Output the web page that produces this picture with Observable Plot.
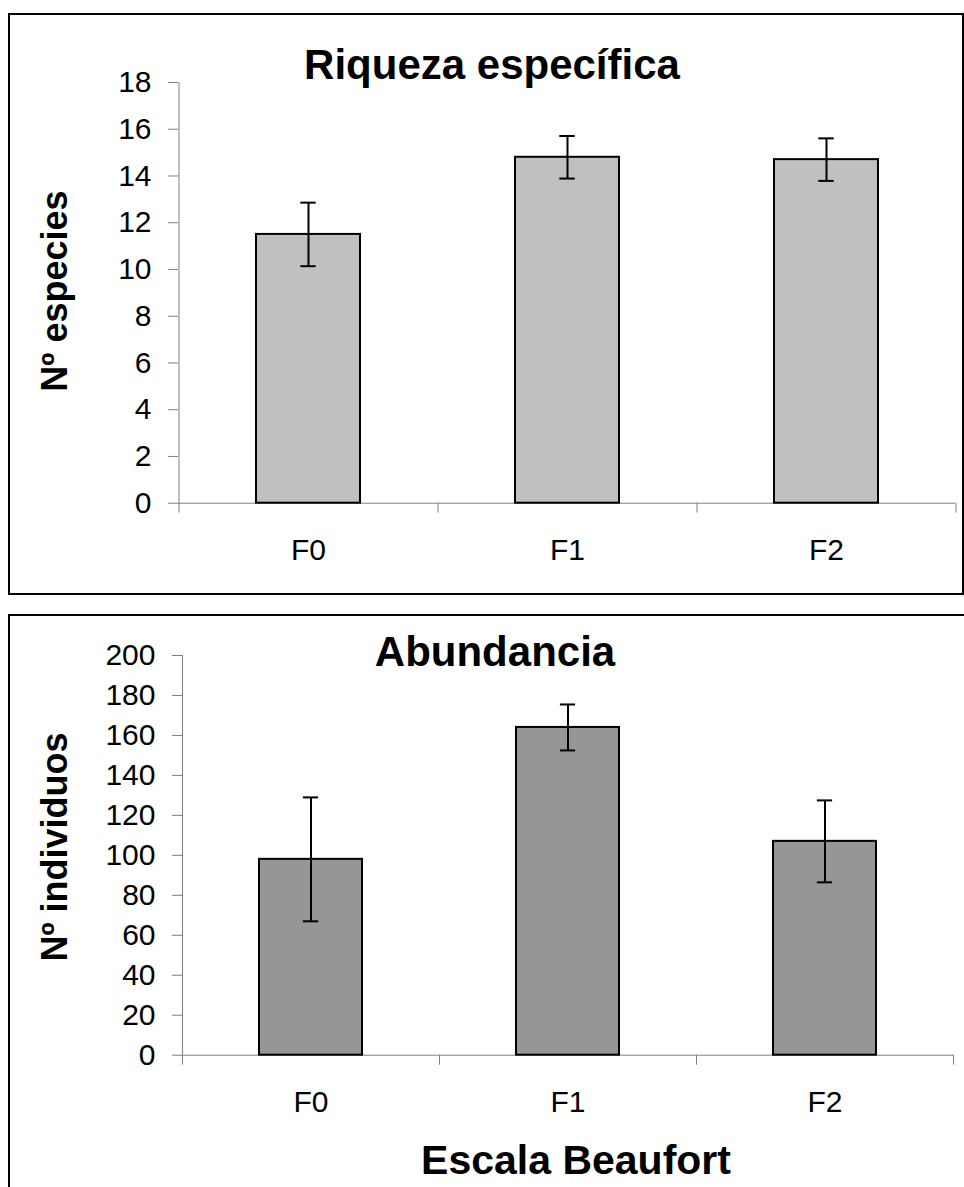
<!DOCTYPE html>
<html><head><meta charset="utf-8">
<script src="https://cdn.jsdelivr.net/npm/d3@7"></script>
<script src="https://cdn.jsdelivr.net/npm/@observablehq/plot@0.6"></script>
<style>
html,body{margin:0;padding:0;background:#fff;}
#page{position:relative;width:964px;height:1187px;overflow:hidden;font-family:"Liberation Sans",Arial,sans-serif;}
.box{position:absolute;border:2px solid #000;box-sizing:border-box;}
.plot{position:absolute;left:0;}
.lbl{position:absolute;font-weight:bold;line-height:1;white-space:nowrap;color:#000;transform:translate(-50%,-50%);}
.rot{transform:translate(-50%,-50%) rotate(-90deg);}
</style></head><body>
<div id="page">
  <div class="box" style="left:8px;top:13px;width:956px;height:582px"></div>
  <div class="box" style="left:8px;top:614px;width:970px;height:600px"></div>
  <div id="p1" class="plot" style="top:0"></div>
  <div id="p2" class="plot" style="top:600px"></div>
  <div class="lbl" style="left:492px;top:64.5px;font-size:42px">Riqueza específica</div>
  <div class="lbl rot" style="left:54.5px;top:291px;font-size:36px">Nº especies</div>
  <div class="lbl" style="left:495px;top:652px;font-size:42px">Abundancia</div>
  <div class="lbl rot" style="left:54.5px;top:847px;font-size:36px">Nº individuos</div>
  <div class="lbl" style="left:576px;top:1160px;font-size:41px">Escala Beaufort</div>
</div>
<script>
const categories = ["F0", "F1", "F2"];
const riquezaMedia = [11.5, 14.8, 14.7];
const riquezaError = [1.36, 0.91, 0.91];
const abundanciaMedia = [98, 164, 107];
const abundanciaError = [31, 11.5, 20.5];
const riquezaTicks = [0, 2, 4, 6, 8, 10, 12, 14, 16, 18];
const abundanciaTicks = [0, 20, 40, 60, 80, 100, 120, 140, 160, 180, 200];

function panel({media, error, ticks, fill, width, height, marginLeft, marginRight, marginTop, marginBottom}) {
  const data = categories.map((c, i) => ({cat: c, v: media[i], lo: media[i] - error[i], hi: media[i] + error[i]}));
  const step = (width - marginLeft - marginRight) / categories.length;
  const bw = step * 0.4;
  const capInset = (bw - 15) / 2;
  const axisColor = "#808080";
  return Plot.plot({
    width, height, marginLeft, marginRight, marginTop, marginBottom,
    style: {fontFamily: "'Liberation Sans', Arial, sans-serif", fontSize: "30px", background: "transparent", color: "black", overflow: "visible"},
    x: {domain: categories, paddingInner: 0.6, paddingOuter: 0.3, label: null},
    y: {domain: [ticks[0], ticks[ticks.length - 1]], label: null},
    marks: [
      Plot.ruleY([0], {stroke: axisColor}),
      Plot.ruleX([categories[0]], {dx: -step / 2, stroke: axisColor}),
      Plot.ruleX(categories, {y1: 0, y2: 0, insetBottom: -10, dx: -step / 2, stroke: axisColor}),
      Plot.ruleX([categories[categories.length - 1]], {y1: 0, y2: 0, insetBottom: -10, dx: step / 2, stroke: axisColor}),
      Plot.axisY({ticks, tickSize: 10, tickPadding: 17, stroke: axisColor, fill: "black", fontSize: 30, label: null, tickFormat: d => String(d)}),
      Plot.axisX({tickSize: 0, tickPadding: 35, fill: "black", fontSize: 30, label: null}),
      Plot.barY(data, {x: "cat", y: "v", fill, stroke: "black", strokeWidth: 2}),
      Plot.ruleX(data, {x: "cat", y1: "lo", y2: "hi", stroke: "black", strokeWidth: 2}),
      Plot.tickY(data, {x: "cat", y: "lo", stroke: "black", strokeWidth: 2, insetLeft: capInset, insetRight: capInset}),
      Plot.tickY(data, {x: "cat", y: "hi", stroke: "black", strokeWidth: 2, insetLeft: capInset, insetRight: capInset})
    ]
  });
}

document.getElementById("p1").append(panel({
  media: riquezaMedia, error: riquezaError, ticks: riquezaTicks, fill: "#c0c0c0",
  width: 964, height: 600, marginLeft: 178, marginRight: 9, marginTop: 82, marginBottom: 97.3
}));
document.getElementById("p2").append(panel({
  media: abundanciaMedia, error: abundanciaError, ticks: abundanciaTicks, fill: "#969696",
  width: 964, height: 587, marginLeft: 182, marginRight: 11, marginTop: 55, marginBottom: 132.3
}));
</script>
</body></html>
